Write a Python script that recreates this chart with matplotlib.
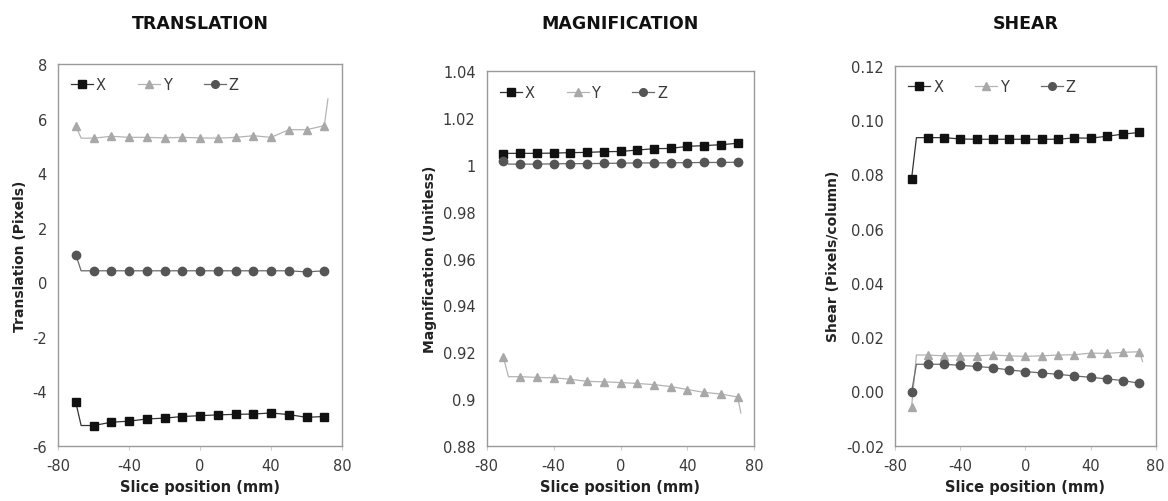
import numpy as np
import matplotlib.pyplot as plt
from matplotlib.ticker import FixedLocator

# slice positions (mm) where the markers sit
slice_pos = [-70, -60, -50, -40, -30, -20, -10, 0, 10, 20, 30, 40, 50, 60, 70]

# translation (pixels)
trans_x = [-4.40, -5.25, -5.13, -5.09, -5.01, -4.98, -4.92, -4.89, -4.86, -4.84, -4.83, -4.79, -4.85, -4.95, -4.92]
trans_y = [5.74, 5.28, 5.35, 5.31, 5.31, 5.29, 5.31, 5.29, 5.28, 5.31, 5.37, 5.31, 5.59, 5.59, 5.74]
trans_z = [1.01, 0.42, 0.42, 0.42, 0.42, 0.42, 0.42, 0.42, 0.42, 0.42, 0.42, 0.42, 0.42, 0.38, 0.42]

# magnification (unitless)
mag_x = [1.0046, 1.0050, 1.0050, 1.0051, 1.0053, 1.0054, 1.0057, 1.0058, 1.0064, 1.0070, 1.0071, 1.0080, 1.0083, 1.0087, 1.0093]
mag_y = [0.9178, 0.9095, 0.9092, 0.9090, 0.9084, 0.9075, 0.9073, 0.9070, 0.9066, 0.9061, 0.9053, 0.9040, 0.9028, 0.9021, 0.9008]
mag_z = [1.0017, 1.0004, 1.0004, 1.0005, 1.0006, 1.0006, 1.0007, 1.0008, 1.0009, 1.0009, 1.0010, 1.0010, 1.0011, 1.0011, 1.0012]

# shear (pixels/column)
shear_x = [0.0783, 0.0935, 0.0935, 0.0930, 0.0929, 0.0929, 0.0929, 0.0929, 0.0929, 0.0929, 0.0934, 0.0933, 0.0940, 0.0948, 0.0954]
shear_y = [-0.0059, 0.0134, 0.0131, 0.0131, 0.0131, 0.0134, 0.0131, 0.0129, 0.0131, 0.0134, 0.0135, 0.0141, 0.0140, 0.0144, 0.0146]
shear_z = [-0.0003, 0.0100, 0.0100, 0.0096, 0.0092, 0.0087, 0.0079, 0.0073, 0.0068, 0.0063, 0.0057, 0.0052, 0.0046, 0.0040, 0.0030]

# the connecting lines bend at about -67 mm, some have a short tail past 70 mm
elbow_x = -67
tail_x = 72
trans_y_tail = 6.72
mag_y_tail = 0.894
shear_y_tail = 0.011

x_ticks = [-80, -40, 0, 40, 80]
x_ticklabels = ['-80', '-40', '0', '40', '80']

trans_ticks = [-6, -4, -2, 0, 2, 4, 6, 8]
trans_ticklabels = ['-6', '-4', '-2', '0', '2', '4', '6', '8']
mag_ticks = [0.88, 0.90, 0.92, 0.94, 0.96, 0.98, 1.00, 1.02, 1.04]
mag_ticklabels = ['0.88', '0.9', '0.92', '0.94', '0.96', '0.98', '1', '1.02', '1.04']
shear_ticks = [-0.02, 0.00, 0.02, 0.04, 0.06, 0.08, 0.10, 0.12]
shear_ticklabels = ['-0.02', '0.00', '0.02', '0.04', '0.06', '0.08', '0.10', '0.12']

styles = {
    'X': dict(marker='s', color='#111111', lc='#333333', ms=6),
    'Y': dict(marker='^', color='#a8a8a8', lc='#b4b4b4', ms=6),
    'Z': dict(marker='o', color='#555555', lc='#6a6a6a', ms=6),
}

tick_col = '#3a3a3a'
spine_col = '#9a9a9a'


def series(ax, name, vals, tail=None):
    st = styles[name]
    lx = [slice_pos[0], elbow_x] + slice_pos[1:]
    ly = [vals[0], vals[1]] + vals[1:]
    if tail is not None:
        lx = lx + [tail_x]
        ly = ly + [tail]
    ax.plot(lx, ly, color=st['lc'], lw=0.9, zorder=2)
    ax.plot(slice_pos, vals, ls='none', marker=st['marker'], color=st['color'],
            ms=st['ms'], zorder=3)
    # legend proxy
    ax.plot([], [], color=st['lc'], lw=0.9, marker=st['marker'],
            mfc=st['color'], mec=st['color'], ms=st['ms'] - 0.5, label=name)


def style_axes(ax, ylim, yticks, yticklabels, ylabel):
    ax.set_xlim(-80, 80)
    ax.set_ylim(*ylim)
    ax.xaxis.set_major_locator(FixedLocator(x_ticks))
    ax.set_xticklabels(x_ticklabels)
    ax.yaxis.set_major_locator(FixedLocator(yticks))
    ax.set_yticklabels(yticklabels)
    ax.tick_params(axis='x', length=3, color='#cccccc', labelsize=10.5,
                   labelcolor=tick_col, pad=6)
    ax.tick_params(axis='y', length=0, labelsize=10.5, labelcolor=tick_col, pad=8)
    for s in ax.spines.values():
        s.set_color(spine_col)
        s.set_linewidth(1.0)
    ax.set_xlabel('Slice position (mm)', fontsize=10.5, fontweight='bold',
                  color='#222222', labelpad=4)
    ax.set_ylabel(ylabel, fontsize=10, fontweight='bold', color='#222222', labelpad=4)
    ax.legend(loc='upper left', ncol=3, frameon=False, fontsize=10.5,
              handlelength=1.5, handletextpad=0.2, columnspacing=2.2,
              borderaxespad=0.5, labelcolor=tick_col)


fig = plt.figure(figsize=(11.68, 5.02), dpi=100)

ax1 = fig.add_axes([0.0497, 0.1096, 0.2432, 0.7610])
series(ax1, 'X', trans_x)
series(ax1, 'Y', trans_y, trans_y_tail)
series(ax1, 'Z', trans_z)
style_axes(ax1, (-6, 8), trans_ticks, trans_ticklabels, 'Translation (Pixels)')

ax2 = fig.add_axes([0.4167, 0.1102, 0.2291, 0.7454])
series(ax2, 'X', mag_x)
series(ax2, 'Y', mag_y, mag_y_tail)
series(ax2, 'Z', mag_z)
style_axes(ax2, (0.88, 1.04), mag_ticks, mag_ticklabels, 'Magnification (Unitless)')

ax3 = fig.add_axes([0.7665, 0.1102, 0.2229, 0.7569])
series(ax3, 'X', shear_x)
series(ax3, 'Y', shear_y, shear_y_tail)
series(ax3, 'Z', shear_z)
style_axes(ax3, (-0.02, 0.12), shear_ticks, shear_ticklabels, 'Shear (Pixels/column)')

for ax, title in zip([ax1, ax2, ax3], ['TRANSLATION', 'MAGNIFICATION', 'SHEAR']):
    pos = ax.get_position()
    fig.text((pos.x0 + pos.x1) / 2, 0.953, title, ha='center', va='center',
             fontsize=12.5, fontweight='bold', color='#111111')

fig.savefig('out.png', dpi=100)
